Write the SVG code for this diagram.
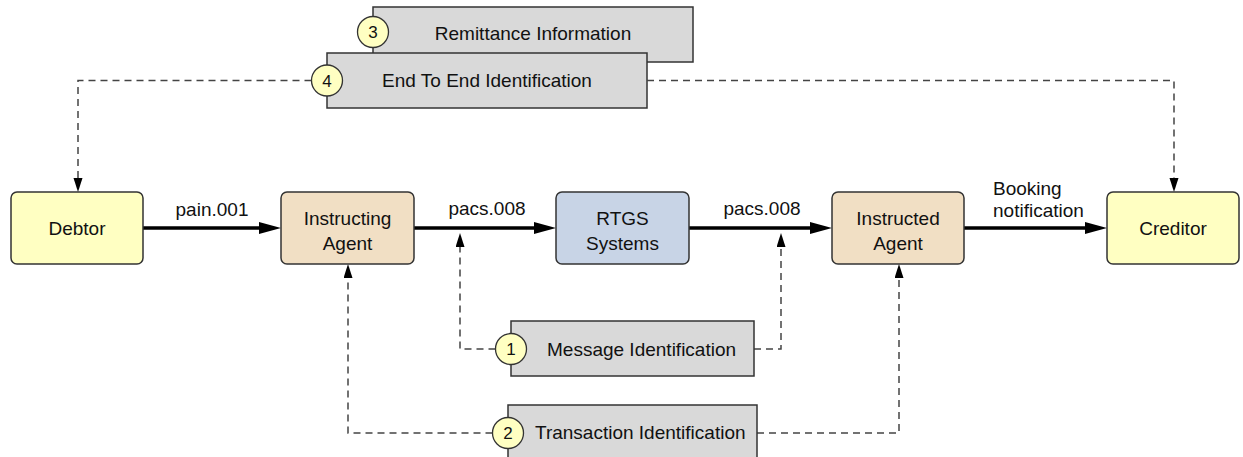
<svg xmlns="http://www.w3.org/2000/svg" width="1243" height="457" viewBox="0 0 1243 457">
<defs>
<style>
text{font-family:"Liberation Sans",Arial,sans-serif;font-size:19px;fill:#111}
.c{text-anchor:middle}
.num{font-size:17px;text-anchor:middle}
.node{stroke:#333;stroke-width:1.5}
.party{fill:#FFFFC2}
.agent{fill:#F1DFC4}
.sys{fill:#C8D4E6}
.info{fill:#D9D9D9;stroke:#333;stroke-width:1.5}
.badge{fill:#FFFFC2;stroke:#333;stroke-width:1.3}
.flow{fill:none;stroke:#000;stroke-width:3.5}
.ref{fill:none;stroke:#444;stroke-width:1.5;stroke-dasharray:7 5}
</style>
<marker id="solid" markerUnits="userSpaceOnUse" markerWidth="24" markerHeight="14" refX="2" refY="6" orient="auto" viewBox="0 0 24 14">
<path d="M0,0 L22,6 L0,12 Z" fill="#000"/>
</marker>
<marker id="dash" markerUnits="userSpaceOnUse" markerWidth="16" markerHeight="10" refX="2" refY="4.5" orient="auto" viewBox="0 0 16 10">
<path d="M0,0 L14,4.5 L0,9 Z" fill="#000"/>
</marker>
</defs>

<g id="info-remittance">
<rect class="info" x="373" y="7" width="320" height="55"/>
<circle class="badge" cx="373" cy="32" r="15.5"/>
<text class="num" x="373" y="38">3</text>
<text class="c" x="533" y="40">Remittance Information</text>
</g>
<g id="info-endtoend">
<rect class="info" x="327" y="53" width="320" height="55"/>
<circle class="badge" cx="327" cy="80.5" r="15.5"/>
<text class="num" x="327" y="86.5">4</text>
<text class="c" x="487" y="87">End To End Identification</text>
</g>

<g id="connectors">
<path class="flow" d="M143,228 H261" marker-end="url(#solid)"/>
<path class="flow" d="M414,228 H536" marker-end="url(#solid)"/>
<path class="flow" d="M689,228 H812" marker-end="url(#solid)"/>
<path class="flow" d="M964,228 H1087" marker-end="url(#solid)"/>
<path class="ref" d="M311.5,80.5 H78 V180" marker-end="url(#dash)"/>
<path class="ref" d="M647,80.5 H1174 V180" marker-end="url(#dash)"/>
<path class="ref" d="M495.5,349 H460 V245" marker-end="url(#dash)"/>
<path class="ref" d="M754,349 H781 V245" marker-end="url(#dash)"/>
<path class="ref" d="M492.5,433 H348 V276" marker-end="url(#dash)"/>
<path class="ref" d="M757,433 H899 V276" marker-end="url(#dash)"/>
<text class="c" x="212" y="216">pain.001</text>
<text class="c" x="487" y="215">pacs.008</text>
<text class="c" x="762" y="215">pacs.008</text>
<text x="993" y="194.5">Booking</text>
<text x="993" y="216.5">notification</text>
</g>

<g id="debtor">
<rect class="node party" x="11" y="192" width="132" height="72" rx="6"/>
<text class="c" x="77" y="234.5">Debtor</text>
</g>
<g id="instructing-agent">
<rect class="node agent" x="281" y="192" width="133" height="72" rx="6"/>
<text class="c" x="347.5" y="224.5">Instructing</text>
<text class="c" x="347.5" y="249.5">Agent</text>
</g>
<g id="rtgs">
<rect class="node sys" x="556" y="192" width="133" height="72" rx="6"/>
<text class="c" x="622.5" y="224.5">RTGS</text>
<text class="c" x="622.5" y="249.5">Systems</text>
</g>
<g id="instructed-agent">
<rect class="node agent" x="832" y="192" width="132" height="72" rx="6"/>
<text class="c" x="898" y="224.5">Instructed</text>
<text class="c" x="898" y="249.5">Agent</text>
</g>
<g id="creditor">
<rect class="node party" x="1107" y="192" width="132" height="72" rx="6"/>
<text class="c" x="1173" y="234.5">Creditor</text>
</g>

<g id="info-message">
<rect class="info" x="511" y="321" width="243" height="55"/>
<circle class="badge" cx="511" cy="349" r="15.5"/>
<text class="num" x="511" y="355">1</text>
<text x="547" y="355.5">Message Identification</text>
</g>
<g id="info-transaction">
<rect class="info" x="508" y="405" width="249" height="60"/>
<circle class="badge" cx="508" cy="433" r="15.5"/>
<text class="num" x="508" y="439">2</text>
<text x="535" y="439">Transaction Identification</text>
</g>
</svg>
